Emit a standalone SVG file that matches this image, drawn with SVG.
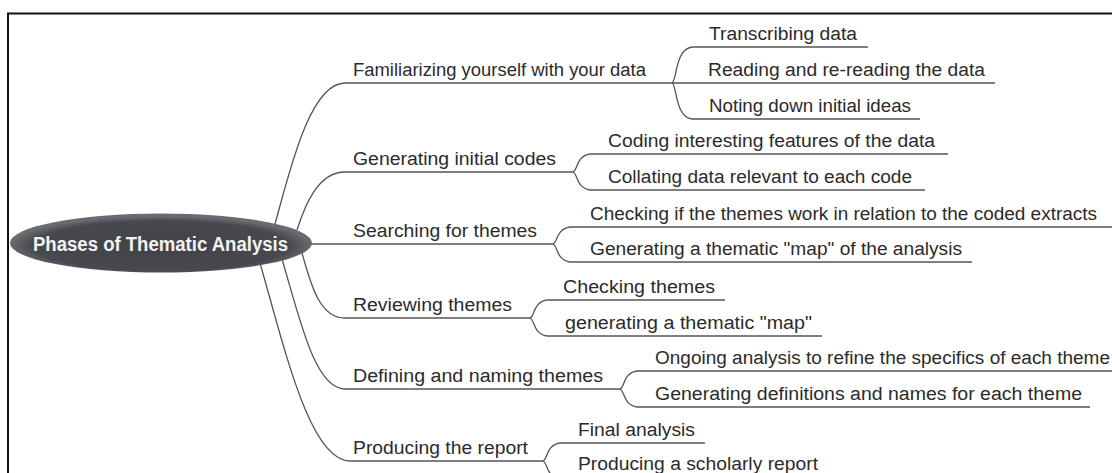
<svg xmlns="http://www.w3.org/2000/svg" width="1112" height="473" viewBox="0 0 1112 473">
<defs>
<style>
.t{font-family:"Liberation Sans",Arial,sans-serif;font-size:18px;fill:#2b2b2b}
.c{fill:none;stroke:#555;stroke-width:1.3}
.title{font-family:"Liberation Sans",Arial,sans-serif;font-size:20px;font-weight:bold;fill:#f2f2f2}
</style>
<radialGradient id="eg" cx="50%" cy="55%" r="50%">
<stop offset="0" stop-color="#414247"/>
<stop offset="0.85" stop-color="#48494e"/>
<stop offset="1" stop-color="#6a6b70"/>
</radialGradient>
</defs>
<rect width="1112" height="473" fill="#fff"/>
<path d="M8,473 V13.5 H1112" fill="none" stroke="#111" stroke-width="2"/>

<g id="connectors">
<path class="c" d="M275,224 C290,170 310,83 345,83 H672"/>
<path class="c" d="M297,230 C305,205 318,172 345,172 H573"/>
<path class="c" d="M310,244 H553"/>
<path class="c" d="M302,253 C310,280 318,318 345,318 H530"/>
<path class="c" d="M282,259 C300,320 315,389 345,389 H620"/>
<path class="c" d="M260,263 C285,350 310,461 350,461 H543"/>

<path class="c" d="M672,83 C677,81 675,49 692,47 H868"/>
<path class="c" d="M672,83 H995"/>
<path class="c" d="M672,83 C677,85 675,117 692,119 H920"/>

<path class="c" d="M573,172 C578,170 576,156 590,154 H948"/>
<path class="c" d="M573,172 C578,174 576,188 590,190 H925"/>

<path class="c" d="M553,244 C558,242 556,229 570,227 H1112"/>
<path class="c" d="M553,244 C558,246 556,260 570,262 H972"/>

<path class="c" d="M530,318 C535,316 533,302 547,300 H725"/>
<path class="c" d="M530,318 C535,320 533,334 547,336 H822"/>

<path class="c" d="M620,389 C625,387 623,373 637,371 H1112"/>
<path class="c" d="M620,389 C625,391 623,405 637,407 H1090"/>

<path class="c" d="M543,461 C548,459 546,445 560,443 H705"/>
<path class="c" d="M543,461 C548,463 546,477 560,479 H828"/>
</g>

<g id="root">
<ellipse cx="161" cy="243" rx="151" ry="29.5" fill="url(#eg)"/>
<text class="title" x="33" y="251" textLength="255" lengthAdjust="spacingAndGlyphs">Phases of Thematic Analysis</text>
</g>

<g id="phase1"><text class="t" x="353" y="76" textLength="293" lengthAdjust="spacingAndGlyphs">Familiarizing yourself with your data</text></g>
<g id="p1c1"><text class="t" x="709" y="40" textLength="148" lengthAdjust="spacingAndGlyphs">Transcribing data</text></g>
<g id="p1c2"><text class="t" x="708" y="76" textLength="277" lengthAdjust="spacingAndGlyphs">Reading and re-reading the data</text></g>
<g id="p1c3"><text class="t" x="709" y="112" textLength="202" lengthAdjust="spacingAndGlyphs">Noting down initial ideas</text></g>

<g id="phase2"><text class="t" x="353" y="165" textLength="203" lengthAdjust="spacingAndGlyphs">Generating initial codes</text></g>
<g id="p2c1"><text class="t" x="608" y="147" textLength="327" lengthAdjust="spacingAndGlyphs">Coding interesting features of the data</text></g>
<g id="p2c2"><text class="t" x="608" y="183" textLength="304" lengthAdjust="spacingAndGlyphs">Collating data relevant to each code</text></g>

<g id="phase3"><text class="t" x="353" y="237" textLength="184" lengthAdjust="spacingAndGlyphs">Searching for themes</text></g>
<g id="p3c1"><text class="t" x="590" y="220" textLength="507" lengthAdjust="spacingAndGlyphs">Checking if the themes work in relation to the coded extracts</text></g>
<g id="p3c2"><text class="t" x="590" y="255" textLength="372" lengthAdjust="spacingAndGlyphs">Generating a thematic "map" of the analysis</text></g>

<g id="phase4"><text class="t" x="353" y="311" textLength="159" lengthAdjust="spacingAndGlyphs">Reviewing themes</text></g>
<g id="p4c1"><text class="t" x="563" y="293" textLength="152" lengthAdjust="spacingAndGlyphs">Checking themes</text></g>
<g id="p4c2"><text class="t" x="565" y="329" textLength="247" lengthAdjust="spacingAndGlyphs">generating a thematic "map"</text></g>

<g id="phase5"><text class="t" x="353" y="382" textLength="250" lengthAdjust="spacingAndGlyphs">Defining and naming themes</text></g>
<g id="p5c1"><text class="t" x="655" y="364" textLength="455" lengthAdjust="spacingAndGlyphs">Ongoing analysis to refine the specifics of each theme</text></g>
<g id="p5c2"><text class="t" x="655" y="400" textLength="427" lengthAdjust="spacingAndGlyphs">Generating definitions and names for each theme</text></g>

<g id="phase6"><text class="t" x="353" y="454" textLength="175" lengthAdjust="spacingAndGlyphs">Producing the report</text></g>
<g id="p6c1"><text class="t" x="578" y="436" textLength="117" lengthAdjust="spacingAndGlyphs">Final analysis</text></g>
<g id="p6c2"><text class="t" x="578" y="470" textLength="240" lengthAdjust="spacingAndGlyphs">Producing a scholarly report</text></g>
</svg>
